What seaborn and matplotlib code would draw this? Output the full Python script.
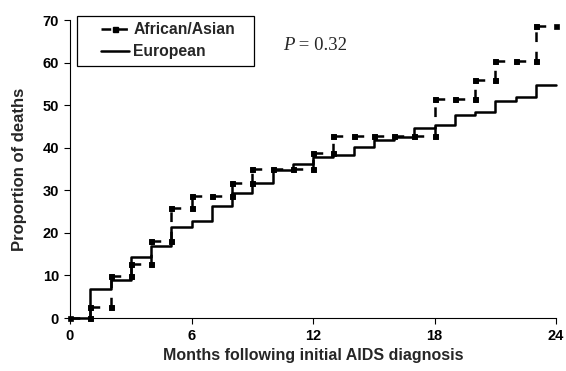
import numpy as np
import pandas as pd
import matplotlib
matplotlib.use("Agg")
import matplotlib.pyplot as plt
import seaborn as sns
from matplotlib.lines import Line2D
from matplotlib.legend_handler import HandlerLine2D

# ---- data ----
months = list(range(25))
african_asian = [0, 2.7, 9.9, 12.6, 18.1, 25.9, 28.7, 28.7, 31.8, 35.0, 35.0, 35.0,
                 38.8, 42.7, 42.7, 42.7, 42.7, 42.7, 51.4, 51.4, 55.9, 60.3, 60.3,
                 68.5, 68.5]
european = [0, 6.8, 8.9, 14.4, 17.0, 21.4, 22.8, 26.3, 29.3, 31.8, 34.8, 36.1,
            37.8, 38.4, 40.1, 41.9, 42.6, 44.6, 45.3, 47.7, 48.5, 51.0, 51.8,
            54.7, 54.7]
series_names = ["African/Asian", "European"]
x_ticks = [0, 6, 12, 18, 24]
y_ticks = [0, 10, 20, 30, 40, 50, 60, 70]
x_label = "Months following initial AIDS diagnosis"
y_label = "Proportion of deaths"
p_letter = "P"
p_rest = " = 0.32"


def step_segments(xs, ys):
    rows = []
    seg = 0
    for i in range(len(xs) - 1):
        rows += [(xs[i], ys[i], seg), (xs[i + 1], ys[i], seg)]
        seg += 1
        if ys[i + 1] != ys[i]:
            rows += [(xs[i + 1], ys[i], seg), (xs[i + 1], ys[i + 1], seg)]
            seg += 1
    return pd.DataFrame(rows, columns=["month", "value", "seg"])


sns.set_theme(style="white")
plt.rcParams["font.family"] = ["Liberation Sans", "DejaVu Sans"]
plt.rcParams["font.weight"] = "bold"
plt.rcParams["lines.scale_dashes"] = False

fig = plt.figure(figsize=(5.66, 3.71), dpi=100)
ax = fig.add_axes([70 / 566, 1 - 318 / 371, 486 / 566, 298 / 371])

eu_df = pd.DataFrame({"month": months, "value": european})
sns.lineplot(data=eu_df, x="month", y="value", estimator=None, ax=ax,
             color="black", lw=1.8, drawstyle="steps-post", zorder=3,
             clip_on=False)

aa_df = step_segments(months, african_asian)
sns.lineplot(data=aa_df, x="month", y="value", units="seg", estimator=None,
             ax=ax, color="black", lw=1.8, linestyle=(0, (7, 7)),
             marker="s", markersize=3.6, markeredgecolor="black",
             markeredgewidth=0.5, zorder=4, clip_on=False)

ax.set_xlim(0, 24)
ax.set_ylim(0, 70)
ax.set_xticks(x_ticks)
ax.set_yticks(y_ticks)
ax.set_xlabel(x_label, fontsize=11.5, fontweight="bold")
ax.set_ylabel(y_label, fontsize=12, fontweight="bold")
ax.tick_params(axis="both", direction="out", length=4, width=0.8,
               labelsize=10.5, pad=4, colors="black", bottom=True, left=True)
for lab in ax.get_xticklabels() + ax.get_yticklabels():
    lab.set_fontweight("bold")
sns.despine(ax=ax)
for s in ["left", "bottom"]:
    ax.spines[s].set_color("black")
    ax.spines[s].set_linewidth(0.8)
ax.xaxis.set_label_coords(0.5, -0.1)
ax.yaxis.set_label_coords(-0.088, 0.5)

t1 = ax.text(10.5, 63.9, p_letter, fontsize=13.5, fontweight="normal",
             fontstyle="italic", family="Liberation Serif",
             va="center", ha="left")
fig.canvas.draw()
bb = t1.get_window_extent()
x_after = ax.transData.inverted().transform((bb.x1, bb.y0))[0]
ax.text(x_after, 63.9, p_rest, fontsize=13.5, fontweight="normal",
        family="Liberation Serif", va="center", ha="left")


class ShiftedHandler(HandlerLine2D):
    def get_xdata(self, legend, xdescent, ydescent, width, height, fontsize):
        x0 = -xdescent + 0.38 * width
        x1 = -xdescent + width
        return [x0, x1], [0.5 * (x0 + x1)]


h_aa = Line2D([], [], color="black", lw=1.8, linestyle=(0, (7, 5)),
              marker="s", markersize=3.6, markeredgecolor="black")
h_eu = Line2D([], [], color="black", lw=1.8)
leg = fig.legend([h_aa, h_eu], series_names, loc="upper left",
                 bbox_to_anchor=(77 / 566, 1 - 69 / 371, 177 / 566, 53 / 371),
                 mode="expand", borderaxespad=0, borderpad=0.4,
                 handlelength=2.9, handletextpad=0.3, labelspacing=0.45,
                 numpoints=1, fancybox=False, framealpha=1,
                 edgecolor="black", prop={"size": 11.3, "weight": "bold"},
                 handler_map={Line2D: ShiftedHandler()})
leg.get_frame().set_linewidth(0.9)

fig.savefig("out.png", dpi=100)
